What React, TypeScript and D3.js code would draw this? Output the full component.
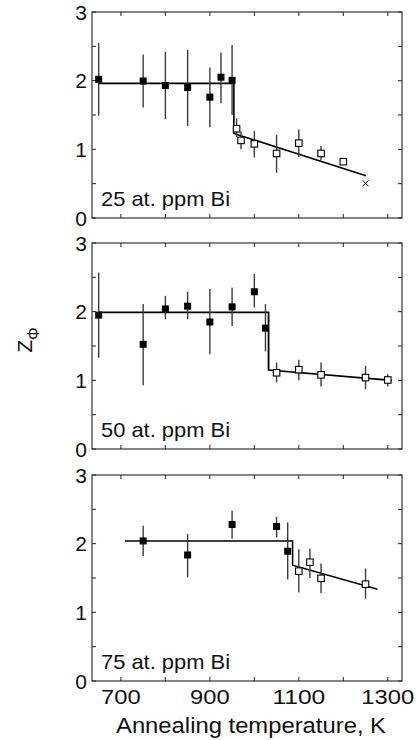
import React from "react";
import * as d3 from "d3";

// ---------- data ----------
const panelLabels = ["25 at. ppm Bi", "50 at. ppm Bi", "75 at. ppm Bi"];
const xTickValues = [700, 800, 900, 1000, 1100, 1200, 1300];
const xTickLabels = ["700", "", "900", "", "1100", "", "1300"];
const yTickValues = [0, 0.5, 1, 1.5, 2, 2.5, 3];
const yTickLabels = ["0", "", "1", "", "2", "", "3"];

// panel 1 : 25 at. ppm
const p1FilledT = [650, 750, 800, 850, 900, 925, 950];
const p1FilledZ = [2.02, 1.995, 1.93, 1.9, 1.76, 2.05, 2.005];
const p1FilledHi = [2.55, 2.38, 2.42, 2.45, 2.19, 2.41, 2.52];
const p1FilledLo = [1.49, 1.61, 1.44, 1.34, 1.32, 1.67, 1.5];
const p1OpenT = [960, 970, 1000, 1050, 1100, 1150, 1200];
const p1OpenZ = [1.3, 1.13, 1.08, 0.94, 1.09, 0.94, 0.82];
const p1OpenHi = [1.45, 1.26, 1.27, 1.21, 1.29, 1.05, 0.82];
const p1OpenLo = [1.18, 1.0, 0.88, 0.66, 0.89, 0.84, 0.82];
const p1CrossT = [1250];
const p1CrossZ = [0.505];
const p1FitT = [650, 954, 954, 1251];
const p1FitZ = [1.96, 1.96, 1.23, 0.616];

// panel 2 : 50 at. ppm
const p2FilledT = [650, 750, 800, 850, 900, 950, 1000, 1025];
const p2FilledZ = [1.95, 1.525, 2.04, 2.08, 1.85, 2.07, 2.29, 1.76];
const p2FilledHi = [2.57, 2.11, 2.23, 2.29, 2.33, 2.35, 2.55, 2.11];
const p2FilledLo = [1.33, 0.93, 1.89, 1.89, 1.38, 1.79, 2.06, 1.42];
const p2OpenT = [1050, 1100, 1150, 1250, 1300];
const p2OpenZ = [1.11, 1.155, 1.08, 1.04, 1.005];
const p2OpenHi = [1.26, 1.3, 1.26, 1.21, 1.09];
const p2OpenLo = [0.97, 1.0, 0.91, 0.87, 0.91];
const p2CrossT: number[] = [];
const p2CrossZ: number[] = [];
const p2FitT = [650, 1032, 1032, 1309];
const p2FitZ = [1.99, 1.99, 1.15, 1.0];

// panel 3 : 75 at. ppm
const p3FilledT = [750, 850, 950, 1050, 1075];
const p3FilledZ = [2.04, 1.835, 2.28, 2.25, 1.89];
const p3FilledHi = [2.26, 2.14, 2.48, 2.39, 2.31];
const p3FilledLo = [1.82, 1.51, 2.07, 2.09, 1.48];
const p3OpenT = [1100, 1125, 1150, 1250];
const p3OpenZ = [1.6, 1.73, 1.495, 1.41];
const p3OpenHi = [1.92, 1.93, 1.71, 1.64];
const p3OpenLo = [1.29, 1.5, 1.28, 1.2];
const p3CrossT: number[] = [];
const p3CrossZ: number[] = [];
const p3FitT = [709, 1086, 1086, 1277];
const p3FitZ = [2.04, 2.04, 1.685, 1.335];

const panels = [
  { label: panelLabels[0], fT: p1FilledT, fZ: p1FilledZ, fHi: p1FilledHi, fLo: p1FilledLo, oT: p1OpenT, oZ: p1OpenZ, oHi: p1OpenHi, oLo: p1OpenLo, cT: p1CrossT, cZ: p1CrossZ, lT: p1FitT, lZ: p1FitZ },
  { label: panelLabels[1], fT: p2FilledT, fZ: p2FilledZ, fHi: p2FilledHi, fLo: p2FilledLo, oT: p2OpenT, oZ: p2OpenZ, oHi: p2OpenHi, oLo: p2OpenLo, cT: p2CrossT, cZ: p2CrossZ, lT: p2FitT, lZ: p2FitZ },
  { label: panelLabels[2], fT: p3FilledT, fZ: p3FilledZ, fHi: p3FilledHi, fLo: p3FilledLo, oT: p3OpenT, oZ: p3OpenZ, oHi: p3OpenHi, oLo: p3OpenLo, cT: p3CrossT, cZ: p3CrossZ, lT: p3FitT, lZ: p3FitZ },
];

// ---------- layout ----------
const W = 416;
const H = 740;
const LEFT = 92;
const RIGHT = 402;
const PANEL_TOPS = [12, 243, 475];
const PANEL_H = 206;
const FONT = "'Liberation Sans', Arial, Helvetica, sans-serif";

const x = d3.scaleLinear().domain([635, 1332]).range([LEFT, RIGHT]);

function Panel({ p, top, last }: { p: any; top: number; last: boolean }) {
  const y = d3.scaleLinear().domain([0, 3]).range([top + PANEL_H, top]);
  const line = d3
    .line<number>()
    .x((_, i) => x(p.lT[i]))
    .y((_, i) => y(p.lZ[i]));
  const fitW = [1.6, 1.8, 1.5];
  const idx = panelLabels.indexOf(p.label);
  const sq = 7;
  const osq = 6.5;
  return (
    <g>
      {/* frame */}
      <rect x={LEFT} y={top} width={RIGHT - LEFT} height={PANEL_H} fill="none" stroke="#222" strokeWidth={1.1} />
      {/* ticks */}
      {xTickValues.map((t, i) => (
        <g key={"xt" + i}>
          <line x1={x(t)} x2={x(t)} y1={top} y2={top + 4} stroke="#222" strokeWidth={1} />
          <line x1={x(t)} x2={x(t)} y1={top + PANEL_H} y2={top + PANEL_H - 4} stroke="#222" strokeWidth={1} />
          {last && xTickLabels[i] !== "" && (
            <text
              x={x(t)}
              y={top + PANEL_H + 23}
              textAnchor="middle"
              fontSize={21}
              fontFamily={FONT}
              fill="#111"
              textLength={xTickLabels[i].length * 13.2}
              lengthAdjust="spacingAndGlyphs"
            >
              {xTickLabels[i]}
            </text>
          )}
        </g>
      ))}
      {yTickValues.map((t, i) => (
        <g key={"yt" + i}>
          <line x1={LEFT} x2={LEFT + 4} y1={y(t)} y2={y(t)} stroke="#222" strokeWidth={1} />
          <line x1={RIGHT} x2={RIGHT - 4} y1={y(t)} y2={y(t)} stroke="#222" strokeWidth={1} />
          {yTickLabels[i] !== "" && (
            <text x={LEFT - 5} y={y(t) + 7.5} textAnchor="end" fontSize={21} fontFamily={FONT} fill="#111">
              {yTickLabels[i]}
            </text>
          )}
        </g>
      ))}
      {/* fit line */}
      <path d={line(p.lT) || ""} fill="none" stroke="#000" strokeWidth={fitW[idx]} />
      {/* error bars */}
      {p.fT.map((t: number, i: number) => (
        <line key={"fe" + i} x1={x(t)} x2={x(t)} y1={y(p.fHi[i])} y2={y(p.fLo[i])} stroke="#3a3a3a" strokeWidth={1.4} />
      ))}
      {p.oT.map((t: number, i: number) => (
        <line key={"oe" + i} x1={x(t)} x2={x(t)} y1={y(p.oHi[i])} y2={y(p.oLo[i])} stroke="#3a3a3a" strokeWidth={1.4} />
      ))}
      {/* markers */}
      {p.fT.map((t: number, i: number) => (
        <rect key={"fm" + i} x={x(t) - sq / 2} y={y(p.fZ[i]) - sq / 2} width={sq} height={sq} fill="#000" />
      ))}
      {p.oT.map((t: number, i: number) => (
        <rect key={"om" + i} x={x(t) - osq / 2} y={y(p.oZ[i]) - osq / 2} width={osq} height={osq} fill="#fff" stroke="#000" strokeWidth={1.1} />
      ))}
      {p.cT.map((t: number, i: number) => (
        <g key={"cm" + i} stroke="#000" strokeWidth={1}>
          <line x1={x(t) - 3} x2={x(t) + 3} y1={y(p.cZ[i]) - 3} y2={y(p.cZ[i]) + 3} />
          <line x1={x(t) - 3} x2={x(t) + 3} y1={y(p.cZ[i]) + 3} y2={y(p.cZ[i]) - 3} />
        </g>
      ))}
      {/* label */}
      <text
        x={101}
        y={top + PANEL_H - 12.5}
        fontSize={21}
        fontFamily={FONT}
        fill="#111"
        textLength={129}
        lengthAdjust="spacingAndGlyphs"
      >
        {p.label}
      </text>
    </g>
  );
}

export default function App() {
  return (
    <svg
      width={W}
      height={H}
      viewBox={`0 0 ${W} ${H}`}
      style={{ position: "absolute", left: 0, top: 0, background: "#fff" }}
    >
      <rect x={0} y={0} width={W} height={H} fill="#fff" />
      {panels.map((p, i) => (
        <Panel key={i} p={p} top={PANEL_TOPS[i]} last={i === panels.length - 1} />
      ))}
      <text
        x={251}
        y={733}
        textAnchor="middle"
        fontSize={22}
        fontFamily={FONT}
        fill="#111"
        textLength={270}
        lengthAdjust="spacingAndGlyphs"
      >
        Annealing temperature, K
      </text>
      <text transform="translate(32,340) rotate(-90)" textAnchor="middle" fontFamily={FONT} fill="#111">
        <tspan fontSize={21}>Z</tspan>
        <tspan fontSize={16} dy={7}>Φ</tspan>
      </text>
    </svg>
  );
}
